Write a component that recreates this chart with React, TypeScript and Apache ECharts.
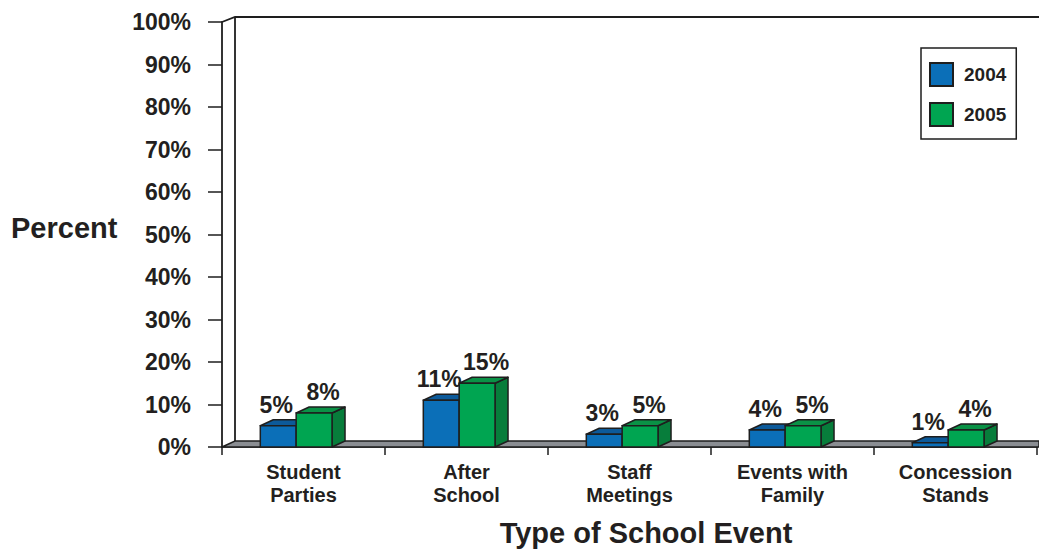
import React, { useEffect, useRef } from "react";
import * as echarts from "echarts";

const categories = ["Student\nParties", "After\nSchool", "Staff\nMeetings", "Events with\nFamily", "Concession\nStands"];
const values2004 = [5, 11, 3, 4, 1];
const values2005 = [8, 15, 5, 5, 4];
const seriesNames = ["2004", "2005"];
const yTickMax = 100;
const yTickStep = 10;

const FONT = "'Liberation Sans', Arial, Helvetica, sans-serif";
const TEXT = "#231f20";
const STROKE = "#1e1e1e";
const DX = 13;
const DY = 6;

const palette = [
  { front: "#0b6fb8", top: "#0c5a9a", side: "#0a5590" },
  { front: "#00a551", top: "#0a9246", side: "#077d3b" },
];

function makeBarRenderer(seriesIdx: number) {
  return (params: any, api: any) => {
    const idx = api.value(0);
    const val = api.value(1);
    const top = api.coord([idx, val]);
    const base = api.coord([idx, 0]);
    const bw = api.size([1, 0])[0];
    const barW = bw * 0.22;
    const start = top[0] - bw * 0.265;
    const x0 = start + seriesIdx * barW;
    const x1 = x0 + barW;
    const yT = top[1];
    const yB = base[1];
    const c = palette[seriesIdx];
    const sw = 1.5;
    const labelX = (x0 + x1) / 2 + (seriesIdx === 0 ? -2 : 9);
    return {
      type: "group",
      children: [
        {
          type: "polygon",
          shape: { points: [[x1, yB], [x1 + DX, yB - DY], [x1 + DX, yT - DY], [x1, yT]] },
          style: { fill: c.side, stroke: STROKE, lineWidth: sw, lineJoin: "round" },
        },
        {
          type: "polygon",
          shape: { points: [[x0, yT], [x1, yT], [x1 + DX, yT - DY], [x0 + DX, yT - DY]] },
          style: { fill: c.top, stroke: STROKE, lineWidth: sw, lineJoin: "round" },
        },
        {
          type: "rect",
          shape: { x: x0, y: yT, width: barW, height: yB - yT },
          style: { fill: c.front, stroke: STROKE, lineWidth: sw },
        },
        {
          type: "text",
          x: labelX,
          y: yT - 21,
          style: {
            text: val + "%",
            fill: TEXT,
            fontSize: 23,
            fontWeight: "bold",
            fontFamily: FONT,
            align: "center",
            verticalAlign: "middle",
          },
        },
      ],
    };
  };
}

function renderFrame(params: any) {
  const cs = params.coordSys;
  const x = cs.x;
  const y = cs.y;
  const w = cs.width;
  const h = cs.height;
  const right = x + w + 2;
  return {
    type: "group",
    children: [
      {
        type: "polygon",
        shape: { points: [[x, y + h], [x + DX, y + h - DY], [right, y + h - DY], [right, y + h]] },
        style: { fill: "#8a8d92", stroke: STROKE, lineWidth: 1.5 },
      },
      {
        type: "polyline",
        shape: { points: [[x, y], [x + DX, y - 5], [right, y - 5]] },
        style: { fill: null, stroke: STROKE, lineWidth: 1.8 },
      },
      {
        type: "line",
        shape: { x1: x + DX, y1: y - 5, x2: x + DX, y2: y + h - DY },
        style: { stroke: STROKE, lineWidth: 1.8 },
      },
    ],
  };
}

export default function App() {
  const ref = useRef<HTMLDivElement>(null);
  useEffect(() => {
    if (!ref.current) return;
    const chart = echarts.init(ref.current, null, { renderer: "svg" });
    const mkData = (arr: number[]) => arr.map((v, i) => [i, v]);
    chart.setOption({
      animation: false,
      backgroundColor: "#ffffff",
      textStyle: { fontFamily: FONT },
      grid: { left: 222, top: 22, width: 815, height: 425 },
      legend: {
        data: seriesNames,
        orient: "vertical",
        left: 921,
        top: 48,
        icon: "rect",
        itemWidth: 23,
        itemHeight: 23,
        itemGap: 15,
        padding: [14, 10, 12, 8],
        borderColor: STROKE,
        borderWidth: 1.5,
        textStyle: { fontSize: 19, fontWeight: "bold", color: TEXT, fontFamily: FONT, padding: [0, 0, 0, 6] },
      },
      xAxis: {
        type: "category",
        data: categories,
        boundaryGap: true,
        axisLine: { show: true, lineStyle: { color: STROKE, width: 1.5 } },
        axisTick: { show: true, length: 8, lineStyle: { color: STROKE, width: 1.5 } },
        axisLabel: {
          interval: 0,
          margin: 13,
          fontSize: 20,
          lineHeight: 23,
          fontWeight: "bold",
          color: TEXT,
          fontFamily: FONT,
        },
        splitLine: { show: false },
      },
      yAxis: {
        type: "value",
        min: 0,
        max: yTickMax,
        interval: yTickStep,
        axisLine: { show: true, lineStyle: { color: STROKE, width: 1.8 } },
        axisTick: { show: true, length: 14, lineStyle: { color: STROKE, width: 1.5 } },
        axisLabel: {
          formatter: "{value}%",
          margin: 31,
          fontSize: 23,
          fontWeight: "bold",
          color: TEXT,
          fontFamily: FONT,
        },
        splitLine: { show: false },
      },
      graphic: [
        {
          type: "text",
          x: 11,
          y: 228,
          style: {
            text: "Percent",
            fill: TEXT,
            fontSize: 29,
            fontWeight: "bold",
            fontFamily: FONT,
            align: "left",
            verticalAlign: "middle",
            textAlign: "left",
            textVerticalAlign: "middle",
          },
        },
        {
          type: "text",
          x: 646,
          y: 533,
          style: {
            text: "Type of School Event",
            fill: TEXT,
            fontSize: 29,
            fontWeight: "bold",
            fontFamily: FONT,
            align: "center",
            verticalAlign: "middle",
            textAlign: "center",
            textVerticalAlign: "middle",
          },
        },
      ],
      series: [
        {
          name: "frame",
          type: "custom",
          z: 1,
          silent: true,
          data: [[0, 0]],
          renderItem: renderFrame,
        },
        {
          name: seriesNames[0],
          type: "custom",
          z: 3,
          itemStyle: { color: palette[0].front, borderColor: STROKE, borderWidth: 1.5 },
          data: mkData(values2004),
          encode: { x: 0, y: 1 },
          renderItem: makeBarRenderer(0),
        },
        {
          name: seriesNames[1],
          type: "custom",
          z: 4,
          itemStyle: { color: palette[1].front, borderColor: STROKE, borderWidth: 1.5 },
          data: mkData(values2005),
          encode: { x: 0, y: 1 },
          renderItem: makeBarRenderer(1),
        },
      ],
    });
    return () => chart.dispose();
  }, []);
  return (
    <div
      ref={ref}
      style={{ position: "fixed", left: 0, top: 0, width: 1039, height: 550 }}
    />
  );
}
